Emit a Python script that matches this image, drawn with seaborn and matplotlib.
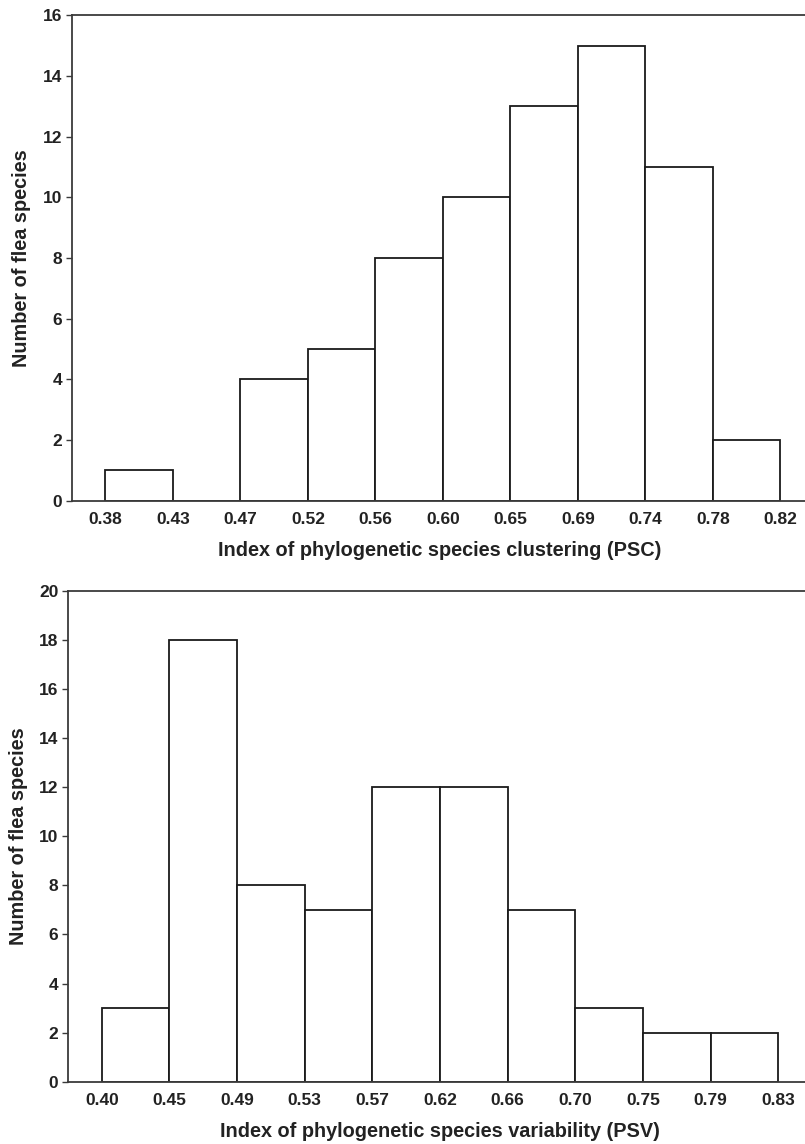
import numpy as np
import pandas as pd
import matplotlib
matplotlib.use("Agg")
import matplotlib.pyplot as plt
import seaborn as sns

# ---- data ----
psc_edges_labels = ["0.38", "0.43", "0.47", "0.52", "0.56", "0.60",
                    "0.65", "0.69", "0.74", "0.78", "0.82"]
psc_counts = [1, 0, 4, 5, 8, 10, 13, 15, 11, 2]

psv_edges_labels = ["0.40", "0.45", "0.49", "0.53", "0.57", "0.62",
                    "0.66", "0.70", "0.75", "0.79", "0.83"]
psv_counts = [3, 18, 8, 7, 12, 12, 7, 3, 2, 2]

ylabel = "Number of flea species"
psc_xlabel = "Index of phylogenetic species clustering (PSC)"
psv_xlabel = "Index of phylogenetic species variability (PSV)"

sns.set_style("white")
plt.rcParams['font.family'] = ['Liberation Sans', 'DejaVu Sans']

fig = plt.figure(figsize=(8.05, 11.44), dpi=100)
W, H = 805, 1144

def make_ax(left_px, top_px, right_px, bottom_px):
    return fig.add_axes([left_px / W, 1 - bottom_px / H,
                         (right_px - left_px) / W, (bottom_px - top_px) / H])

ax1 = make_ax(71.7, 15.3, 814, 500.7)
ax2 = make_ax(68, 590.7, 812, 1081.7)

spine_col = "#3a3a3a"
text_col = "#222222"

def draw(ax, counts, labels, xlabel, ymax, left_px):
    n = len(counts)
    edges = list(range(n + 1))
    df = pd.DataFrame({"pos": [i + 0.5 for i in range(n)],
                       "count": [float(c) for c in counts]})
    sns.histplot(data=df, x="pos", weights="count", bins=edges, ax=ax,
                 stat="count", element="bars", fill=True,
                 color="white", edgecolor="#1a1a1a", linewidth=1.3, alpha=1)
    ax.set_xlim(-0.5, n + 0.5)
    ax.set_ylim(0, ymax)
    ax.set_xticks(edges)
    ax.set_xticklabels(labels)
    ax.set_yticks(np.arange(0, ymax + 1, 2))
    ax.tick_params(axis="x", length=0, pad=8, labelsize=12.5)
    ax.tick_params(axis="y", length=4, width=1, direction="out",
                   color=spine_col, pad=3, labelsize=12.5, left=True)
    for lab in ax.get_xticklabels() + ax.get_yticklabels():
        lab.set_fontweight("bold")
        lab.set_color(text_col)
    for s in ["left", "bottom", "top"]:
        ax.spines[s].set_visible(True)
        ax.spines[s].set_color(spine_col)
        ax.spines[s].set_linewidth(1.3)
    ax.spines["right"].set_visible(False)
    ax.set_xlabel(xlabel, fontsize=14.3, fontweight="bold", color=text_col)
    ax.set_ylabel(ylabel, fontsize=14.3, fontweight="bold", color=text_col,
                  labelpad=8)
    axw = ax.get_position().width * W
    axh = ax.get_position().height * H
    ax.xaxis.set_label_coords((440 - left_px) / axw, -40.0 / axh)

draw(ax1, psc_counts, psc_edges_labels, psc_xlabel, 16, 71.7)
draw(ax2, psv_counts, psv_edges_labels, psv_xlabel, 20, 68)

fig.savefig("out.png", dpi=100)
